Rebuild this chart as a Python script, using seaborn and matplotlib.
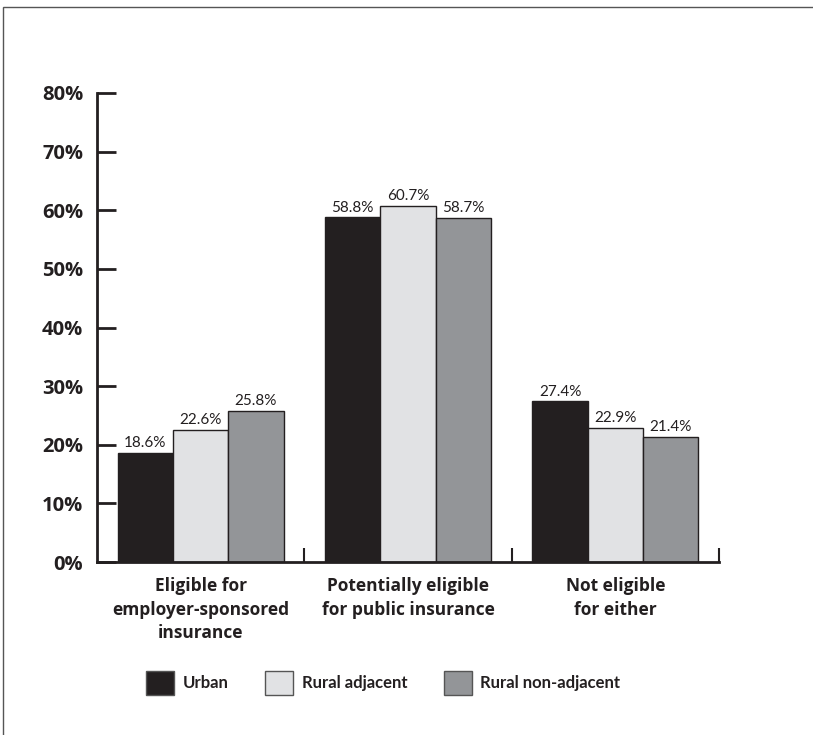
import pandas as pd
import numpy as np
import matplotlib
matplotlib.use('Agg')
import matplotlib.pyplot as plt
import matplotlib.patches as mpatches
import seaborn as sns

categories = ['Eligible for\nemployer-sponsored\ninsurance',
              'Potentially eligible\nfor public insurance',
              'Not eligible\nfor either']
areas = ['Urban', 'Rural adjacent', 'Rural non-adjacent']
urban = [18.6, 58.8, 27.4]
rural_adjacent = [22.6, 60.7, 22.9]
rural_non_adjacent = [25.8, 58.7, 21.4]
colors = ['#231f20', '#e1e2e4', '#939598']
yticks = [0, 10, 20, 30, 40, 50, 60, 70, 80]

rows = []
for area, vals in zip(areas, [urban, rural_adjacent, rural_non_adjacent]):
    for cat, v in zip(categories, vals):
        rows.append({'category': cat, 'area': area, 'value': v})
df = pd.DataFrame(rows)

sns.set_style('white')
plt.rcParams['font.family'] = ['Open Sans', 'DejaVu Sans']
ink = '#231f20'

fig = plt.figure(figsize=(8.13, 7.35), dpi=100)
ax = fig.add_axes([97/813, 1-562/735, (719-97)/813, (562-93)/735])

sns.barplot(data=df, x='category', y='value', hue='area', order=categories,
            hue_order=areas, palette=colors, width=0.8, edgecolor=ink,
            linewidth=1, saturation=1, ax=ax, legend=False)

for c in ax.containers:
    ax.bar_label(c, fmt='%.1f%%', padding=2, fontsize=11, color=ink,
                 fontfamily='Lato')

ax.set_ylim(0, 80)
ax.set_xlim(-0.5, 2.5)
ax.set_yticks(yticks)
ax.set_yticklabels([f'{t}%' for t in yticks], fontsize=14.5, fontweight='bold', color=ink)
ax.tick_params(axis='y', left=True, direction='in', length=14, width=2, color=ink, pad=10)
ax.tick_params(axis='x', bottom=True, length=0, pad=11)
ax.set_xticks(range(3))
ax.set_xticklabels(categories, fontsize=12.5, fontweight='bold', color=ink, linespacing=1.4)
ax.set_xticks([0.5, 1.5, 2.5], minor=True)
ax.tick_params(axis='x', which='minor', bottom=True, direction='in', length=10,
               width=1.5, color=ink)
ax.set_xlabel('')
ax.set_ylabel('')
for s in ['top', 'right']:
    ax.spines[s].set_visible(False)
ax.spines['left'].set_linewidth(2)
ax.spines['left'].set_color(ink)
ax.spines['bottom'].set_linewidth(2)
ax.spines['bottom'].set_color(ink)

handles = [mpatches.Patch(facecolor=c, edgecolor='#555555', linewidth=1, label=a)
           for c, a in zip(colors, areas)]
leg = fig.legend(handles=handles, loc='center', bbox_to_anchor=(383/813, 1-683/735),
                 ncol=3, frameon=False, handlelength=1.7, handleheight=1.8,
                 handletextpad=0.5, columnspacing=2.2,
                 prop={'family': 'Lato', 'weight': 'bold', 'size': 12})
for t in leg.get_texts():
    t.set_color(ink)

fig.add_artist(mpatches.Rectangle((3/813, -0.05), 1.2, 1-7/735+0.05, fill=False,
                                  edgecolor='#555555', linewidth=1,
                                  transform=fig.transFigure))

fig.savefig('out.png', dpi=100)
